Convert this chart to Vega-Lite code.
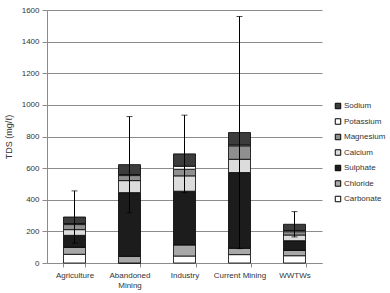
{
  "$schema": "https://vega.github.io/schema/vega-lite/v6.json",
  "width": 275,
  "height": 253,
  "autosize": {"type": "none"},
  "padding": {"left": 47, "top": 10, "right": 68, "bottom": 30},
  "background": "white",
  "config": {
    "font": "Liberation Sans",
    "view": {"stroke": null},
    "axis": {"labelFont": "Liberation Sans", "labelFontSize": 8, "labelColor": "#333", "titleFont": "Liberation Sans", "titleFontWeight": "normal", "titleFontSize": 9, "titleColor": "#333", "domainColor": "#8c8c8c", "tickColor": "#8c8c8c", "gridColor": "#8c8c8c", "gridOpacity": 1},
    "axisY": {"values": [0,200,400,600,800,1000,1200,1400,1600], "format": "d", "labelOverlap": false, "labelFlush": false, "tickSize": 5, "labelPadding": 3, "titlePadding": 8},
    "axisX": {"labelAngle": 0, "tickBand": "extent", "tickSize": 4, "labelPadding": 4}
  },
  "datasets": {
    "ions": [
      {"site": "Agriculture", "ion": "Carbonate", "mg": 55},
      {"site": "Agriculture", "ion": "Chloride", "mg": 44},
      {"site": "Agriculture", "ion": "Sulphate", "mg": 76},
      {"site": "Agriculture", "ion": "Calcium", "mg": 36},
      {"site": "Agriculture", "ion": "Magnesium", "mg": 32},
      {"site": "Agriculture", "ion": "Potassium", "mg": 6},
      {"site": "Agriculture", "ion": "Sodium", "mg": 42},
      {"site": "Abandoned Mining", "ion": "Carbonate", "mg": 0},
      {"site": "Abandoned Mining", "ion": "Chloride", "mg": 42},
      {"site": "Abandoned Mining", "ion": "Sulphate", "mg": 403},
      {"site": "Abandoned Mining", "ion": "Calcium", "mg": 76},
      {"site": "Abandoned Mining", "ion": "Magnesium", "mg": 32},
      {"site": "Abandoned Mining", "ion": "Potassium", "mg": 6},
      {"site": "Abandoned Mining", "ion": "Sodium", "mg": 63},
      {"site": "Industry", "ion": "Carbonate", "mg": 44},
      {"site": "Industry", "ion": "Chloride", "mg": 70},
      {"site": "Industry", "ion": "Sulphate", "mg": 340},
      {"site": "Industry", "ion": "Calcium", "mg": 97},
      {"site": "Industry", "ion": "Magnesium", "mg": 42},
      {"site": "Industry", "ion": "Potassium", "mg": 19},
      {"site": "Industry", "ion": "Sodium", "mg": 78},
      {"site": "Current Mining", "ion": "Carbonate", "mg": 53},
      {"site": "Current Mining", "ion": "Chloride", "mg": 40},
      {"site": "Current Mining", "ion": "Sulphate", "mg": 479},
      {"site": "Current Mining", "ion": "Calcium", "mg": 84},
      {"site": "Current Mining", "ion": "Magnesium", "mg": 85},
      {"site": "Current Mining", "ion": "Potassium", "mg": 6},
      {"site": "Current Mining", "ion": "Sodium", "mg": 78},
      {"site": "WWTWs", "ion": "Carbonate", "mg": 46},
      {"site": "WWTWs", "ion": "Chloride", "mg": 34},
      {"site": "WWTWs", "ion": "Sulphate", "mg": 61},
      {"site": "WWTWs", "ion": "Calcium", "mg": 36},
      {"site": "WWTWs", "ion": "Magnesium", "mg": 21},
      {"site": "WWTWs", "ion": "Potassium", "mg": 7},
      {"site": "WWTWs", "ion": "Sodium", "mg": 40}
    ],
    "err": [
      {"site": "Agriculture", "low": 126, "high": 456},
      {"site": "Abandoned Mining", "low": 318, "high": 926},
      {"site": "Industry", "low": 445, "high": 935},
      {"site": "Current Mining", "low": 91, "high": 1559},
      {"site": "WWTWs", "low": 165, "high": 325}
    ]
  },
  "layer": [
    {
      "data": {"name": "ions"},
      "transform": [
        {"calculate": "indexof(['Carbonate','Chloride','Sulphate','Calcium','Magnesium','Potassium','Sodium'], datum.ion)", "as": "k"}
      ],
      "mark": {"type": "bar", "stroke": "#000", "strokeWidth": 0.8},
      "encoding": {
        "x": {
          "field": "site", "type": "nominal", "sort": null,
          "scale": {"paddingInner": 0.6, "paddingOuter": 0.3},
          "axis": {"title": null, "labelExpr": "datum.label == 'Abandoned Mining' ? ['Abandoned', 'Mining'] : datum.label"}
        },
        "y": {
          "field": "mg", "type": "quantitative", "stack": "zero",
          "scale": {"domain": [0, 1600], "nice": false},
          "axis": {"title": "TDS (mg/ℓ)"}
        },
        "color": {
          "field": "ion", "type": "nominal",
          "scale": {
            "domain": ["Sodium", "Potassium", "Magnesium", "Calcium", "Sulphate", "Chloride", "Carbonate"],
            "range": ["#3c3c3c", "#ffffff", "#8f8f8f", "#dcdcdc", "#1c1c1c", "#a8a8a8", "#ffffff"]
          },
          "legend": {
            "title": null, "orient": "none", "legendX": 287, "legendY": 92,
            "symbolType": "square", "symbolSize": 30, "symbolStrokeColor": "#000", "symbolStrokeWidth": 1,
            "labelFont": "Liberation Sans", "labelFontSize": 8, "labelColor": "#333", "rowPadding": 5.5, "labelOffset": 2
          }
        },
        "order": {"field": "k", "type": "quantitative"}
      }
    },
    {
      "data": {"name": "err"},
      "mark": {"type": "rule", "color": "#000", "strokeWidth": 1},
      "encoding": {
        "x": {"field": "site", "type": "nominal", "sort": null, "axis": {"title": null, "labelExpr": "datum.label == 'Abandoned Mining' ? ['Abandoned', 'Mining'] : datum.label"}},
        "y": {"field": "low", "type": "quantitative", "axis": {"title": "TDS (mg/ℓ)"}},
        "y2": {"field": "high"}
      }
    },
    {
      "data": {"name": "err"},
      "mark": {"type": "tick", "color": "#000", "size": 6, "thickness": 1, "orient": "horizontal"},
      "encoding": {
        "x": {"field": "site", "type": "nominal", "sort": null, "axis": {"title": null, "labelExpr": "datum.label == 'Abandoned Mining' ? ['Abandoned', 'Mining'] : datum.label"}},
        "y": {"field": "high", "type": "quantitative", "axis": {"title": "TDS (mg/ℓ)"}}
      }
    },
    {
      "data": {"name": "err"},
      "mark": {"type": "tick", "color": "#000", "size": 6, "thickness": 1, "orient": "horizontal"},
      "encoding": {
        "x": {"field": "site", "type": "nominal", "sort": null, "axis": {"title": null, "labelExpr": "datum.label == 'Abandoned Mining' ? ['Abandoned', 'Mining'] : datum.label"}},
        "y": {"field": "low", "type": "quantitative", "axis": {"title": "TDS (mg/ℓ)"}}
      }
    }
  ]
}
